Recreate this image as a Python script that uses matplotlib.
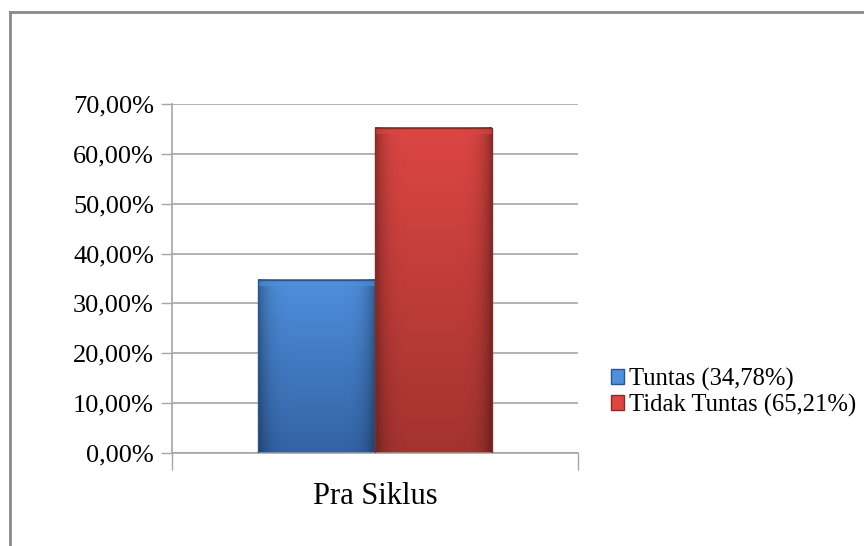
import numpy as np
import matplotlib
matplotlib.use("Agg")
import matplotlib.pyplot as plt
from matplotlib.colors import LinearSegmentedColormap
from matplotlib.lines import Line2D
from matplotlib.patches import Rectangle

plt.rcParams['font.family'] = 'serif'
plt.rcParams['font.serif'] = ['Liberation Serif', 'DejaVu Serif']

# data
category = "Pra Siklus"
series_names = ["Tuntas (34,78%)", "Tidak Tuntas (65,21%)"]
series_values = [34.78, 65.21]
top_colors = ["#4f8fdc", "#dc4643"]
bottom_colors = ["#3363a4", "#a3332f"]
edge_colors = ["#2a5590", "#8a2a26"]
yticks = [0, 10, 20, 30, 40, 50, 60, 70]

fig = plt.figure(figsize=(8.64, 5.46), dpi=100)
ax = fig.add_axes([172 / 864, 1 - 453 / 546, 406 / 864, 349 / 546])

# outer chart frame (left and top edges)
fig.add_artist(Line2D([10 / 864, 10 / 864], [0, 1 - 12 / 546], transform=fig.transFigure,
                      color="#8a8a8a", lw=2))
fig.add_artist(Line2D([10 / 864, 1], [1 - 12 / 546, 1 - 12 / 546], transform=fig.transFigure,
                      color="#8a8a8a", lw=2))

ax.set_xlim(-0.5, 0.5)
ax.set_ylim(0, 70)

bar_w = 0.288
offsets = [-bar_w / 2, bar_w / 2]
for i, v in enumerate(series_values):
    x0 = offsets[i] - bar_w / 2
    cmap = LinearSegmentedColormap.from_list("g%d" % i, [bottom_colors[i], top_colors[i]])
    grad = np.linspace(0, 1, 256).reshape(-1, 1)
    ax.imshow(grad, extent=[x0, x0 + bar_w, 0, v], origin="lower", aspect="auto",
              cmap=cmap, zorder=2)
    # horizontal shading so edges look bevelled
    shade = np.abs(np.linspace(-1, 1, 200)).reshape(1, -1) ** 6
    ax.imshow(shade, extent=[x0, x0 + bar_w, 0, v], origin="lower", aspect="auto",
              cmap=LinearSegmentedColormap.from_list("s", [(0, 0, 0, 0), (0, 0, 0, 0.35)]),
              zorder=2.1)
    ax.add_patch(Rectangle((x0, 0), bar_w, v, fill=False, ec=edge_colors[i], lw=1, zorder=3))
    ax.add_patch(Rectangle((x0, v - 1.2), bar_w, 1.2, fc=top_colors[i], ec="none",
                           alpha=0.6, zorder=2.5))

ax.set_xlim(-0.5, 0.5)
ax.set_ylim(0, 70)

ax.set_yticks(yticks)
ax.set_yticklabels(["%d,00%%" % t for t in yticks], fontsize=19)
ax.yaxis.grid(True, color="#a6a6a6", lw=1.2)
ax.set_axisbelow(True)
ax.tick_params(axis="y", length=8, width=1, color="#a6a6a6", pad=5, direction="out")

ax.set_xticks([-0.5, 0.5])
ax.set_xticklabels(["", ""])
ax.tick_params(axis="x", length=12, width=1, color="#a6a6a6")
ax.text(0.5, -0.126, category, transform=ax.transAxes, ha="center", va="center",
        fontsize=22)

for s in ["top", "right"]:
    ax.spines[s].set_visible(False)
for s in ["left", "bottom"]:
    ax.spines[s].set_color("#a6a6a6")
    ax.spines[s].set_linewidth(1.2)

handles = [Rectangle((0, 0), 1, 1, fc=top_colors[i], ec=edge_colors[i]) for i in range(2)]
fig.legend(handles, series_names, loc="center left", bbox_to_anchor=(601 / 864, 1 - 392 / 546),
           frameon=False, fontsize=17.7, handlelength=0.55, handleheight=0.55,
           handletextpad=0.2, labelspacing=0.12, borderaxespad=0)

fig.savefig("out.png", dpi=100)
